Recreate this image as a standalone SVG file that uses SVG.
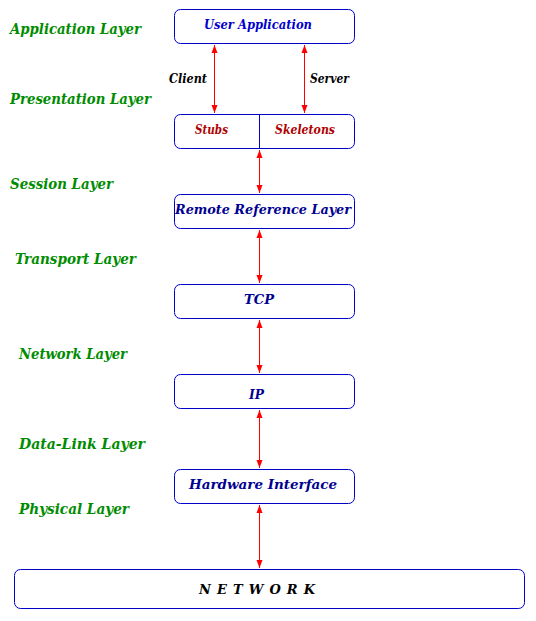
<svg xmlns="http://www.w3.org/2000/svg" width="536" height="621" viewBox="0 0 536 621">
<defs>
<marker id="ah" viewBox="0 0 8 10" refX="8" refY="5" markerWidth="8" markerHeight="10" markerUnits="userSpaceOnUse" orient="auto-start-reverse">
<path d="M0,2 L8,5 L0,8 Z" fill="#ff0000"/>
</marker>
<style>
.box{fill:#fff;stroke:#0000c8;stroke-width:1}
.lay{font-family:"DejaVu Serif","Liberation Serif",serif;font-style:italic;font-weight:bold;font-size:14px;fill:#008c00}
.nt{font-family:"DejaVu Serif","Liberation Serif",serif;font-style:italic;font-weight:bold;font-size:13px}
.conn line{stroke:#ff0000;stroke-width:1;marker-start:url(#ah);marker-end:url(#ah)}
.cs{font-family:"DejaVu Serif","Liberation Serif",serif;font-style:italic;font-weight:bold;font-size:12px;fill:#000}
</style>
</defs>
<rect width="536" height="621" fill="#fff"/>
<g id="layers">
<text class="lay" x="10" y="34" textLength="131" lengthAdjust="spacingAndGlyphs">Application Layer</text>
<text class="lay" x="10" y="104" textLength="141" lengthAdjust="spacingAndGlyphs">Presentation Layer</text>
<text class="lay" x="10" y="189" textLength="103" lengthAdjust="spacingAndGlyphs">Session Layer</text>
<text class="lay" x="15" y="264" textLength="121" lengthAdjust="spacingAndGlyphs">Transport Layer</text>
<text class="lay" x="19" y="359" textLength="108" lengthAdjust="spacingAndGlyphs">Network Layer</text>
<text class="lay" x="19" y="449" textLength="126" lengthAdjust="spacingAndGlyphs">Data-Link Layer</text>
<text class="lay" x="19" y="514" textLength="110" lengthAdjust="spacingAndGlyphs">Physical Layer</text>
</g>
<g id="user-app">
<rect class="box" x="174.5" y="9.5" width="180" height="34" rx="6"/>
<text class="nt" x="204" y="29" fill="#0000cc" textLength="108" lengthAdjust="spacingAndGlyphs">User Application</text>
</g>
<g id="stubs-skeletons">
<rect class="box" x="174.5" y="114.5" width="180" height="34" rx="6"/>
<line x1="259.5" y1="114.5" x2="259.5" y2="148.5" stroke="#0000c8"/>
<text class="nt" x="195" y="134" fill="#b00000" textLength="33" lengthAdjust="spacingAndGlyphs">Stubs</text>
<text class="nt" x="275" y="134" fill="#b00000" textLength="60" lengthAdjust="spacingAndGlyphs">Skeletons</text>
</g>
<g id="rrl">
<rect class="box" x="174.5" y="194.5" width="180" height="34" rx="6"/>
<text class="nt" x="175" y="214" fill="#000090" font-size="14" textLength="176" lengthAdjust="spacingAndGlyphs">Remote Reference Layer</text>
</g>
<g id="tcp">
<rect class="box" x="174.5" y="284.5" width="180" height="34" rx="6"/>
<text class="nt" x="244" y="304" fill="#000090" textLength="30" lengthAdjust="spacingAndGlyphs">TCP</text>
</g>
<g id="ip">
<rect class="box" x="174.5" y="374.5" width="180" height="34" rx="6"/>
<text class="nt" x="249" y="399" fill="#000090" textLength="15" lengthAdjust="spacingAndGlyphs">IP</text>
</g>
<g id="hw">
<rect class="box" x="174.5" y="469.5" width="180" height="34" rx="6"/>
<text class="nt" x="189" y="489" fill="#000090" textLength="148" lengthAdjust="spacingAndGlyphs">Hardware Interface</text>
</g>
<g id="network">
<rect class="box" x="14.5" y="569.5" width="510" height="39" rx="6"/>
<text class="nt" x="199" y="594" fill="#000" font-size="15" textLength="116" lengthAdjust="spacing">NETWORK</text>
</g>
<g class="conn" id="connectors">
<line x1="214.5" y1="45" x2="214.5" y2="113"/>
<line x1="304.5" y1="45" x2="304.5" y2="113"/>
<line x1="259.5" y1="150" x2="259.5" y2="193"/>
<line x1="259.5" y1="230" x2="259.5" y2="283"/>
<line x1="259.5" y1="320" x2="259.5" y2="373"/>
<line x1="259.5" y1="410" x2="259.5" y2="468"/>
<line x1="259.5" y1="505" x2="259.5" y2="568"/>
<text class="cs" x="169" y="83" textLength="38" lengthAdjust="spacingAndGlyphs">Client</text>
<text class="cs" x="310" y="83" textLength="39" lengthAdjust="spacingAndGlyphs">Server</text>
</g>
</svg>
